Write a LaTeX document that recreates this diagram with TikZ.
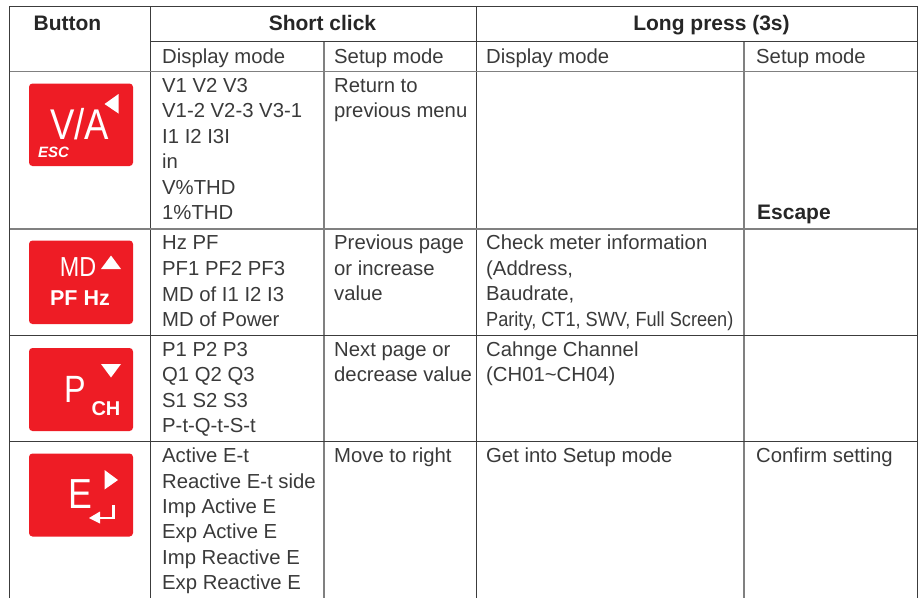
\documentclass[tikz,border=0pt]{standalone}
\usepackage{fontspec}
\setmainfont{Liberation Sans}
\newfontfamily\condfont[FakeStretch=0.89]{Liberation Sans}
\newfontfamily\narrowfont[FakeStretch=0.85]{Liberation Sans}
\definecolor{ink}{HTML}{3A3A3A}
\definecolor{rule}{HTML}{3C3C3C}
\definecolor{softrule}{HTML}{808080}
\definecolor{btnred}{HTML}{EE1C25}
\tikzset{
  cell/.style={anchor=base west,inner sep=0pt,text=ink,font=\fontsize{20.3}{24}\selectfont},
  smallcell/.style={cell,font=\condfont\fontsize{20.4}{24}\selectfont},
  head/.style={anchor=base,inner sep=0pt,text=black!85,font=\fontsize{21}{24}\selectfont\bfseries},
  btn/.style={fill=btnred,rounded corners=3.5pt,draw=none},
  btntext/.style={anchor=base,inner sep=0pt,text=white},
  glyph/.style={fill=white,draw=none},
  gridline/.style={draw=rule,line width=.9pt},
  softline/.style={draw=softrule,line width=1.1pt}
}
\begin{document}
\begin{tikzpicture}[x=1pt,y=-1pt]
\useasboundingbox (0,0) rectangle (922,598);
% grid
\draw[gridline] (9.5,598) -- (9.5,6.5) -- (917,6.5) -- (917,598);
\draw[gridline] (150,6.5) -- (150,598);
\draw[gridline] (476,6.5) -- (476,598);
\draw[softline] (324,41) -- (324,598);
\draw[softline] (744,41) -- (744,598);
\draw[gridline] (150,41) -- (917,41);
\draw[softline] (9.5,71.5) -- (917,71.5);
\draw[softline] (9.5,229) -- (917,229);
\draw[gridline] (9.5,335) -- (917,335);
\draw[gridline] (9.5,441.5) -- (917,441.5);
% headers
\node[head] (hbtn) at (67.5,30) {Button};
\node[head] (hshort) at (322.5,30) {Short click};
\node[head] (hlong) at (711.5,30) {Long press (3s)};
\node[cell] (d1) at (162,63) {Display mode};
\node[cell] (s1) at (334,63) {Setup mode};
\node[cell] (d2) at (486,63) {Display mode};
\node[cell] (s2) at (756,63) {Setup mode};
% row 1
\node[cell] (a1) at (162,92) {V1 V2 V3};
\node[cell] (a2) at (162,117.5) {V1-2 V2-3 V3-1};
\node[cell] (a3) at (162,143) {I1 I2 I3I};
\node[cell] (a4) at (162,168.5) {in};
\node[cell] (a5) at (162,194) {V\%THD};
\node[cell] (a6) at (162,219.5) {1\%THD};
\node[cell] (b1) at (334,92) {Return to};
\node[cell] (b2) at (334,117.5) {previous menu};
\node[cell,font=\fontsize{21}{24}\selectfont\bfseries,text=black!85] (esc) at (757,219.5) {Escape};
% row 2
\node[cell] (c1) at (162,249) {Hz PF};
\node[cell] (c2) at (162,275) {PF1 PF2 PF3};
\node[cell] (c3) at (162,301) {MD of I1 I2 I3};
\node[cell] (c4) at (162,326) {MD of Power};
\node[cell] (e1) at (334,249.5) {Previous page};
\node[cell] (e2) at (334,275) {or increase};
\node[cell] (e3) at (334,300.5) {value};
\node[cell] (f1) at (486,249.5) {Check meter information};
\node[cell] (f2) at (486,275) {(Address,};
\node[cell] (f3) at (486,300.5) {Baudrate,};
\node[smallcell] (f4) at (486,326) {Parity, CT1, SWV, Full Screen)};
% row 3
\node[cell] (g1) at (162,356) {P1 P2 P3};
\node[cell] (g2) at (162,381) {Q1 Q2 Q3};
\node[cell] (g3) at (162,407) {S1 S2 S3};
\node[cell] (g4) at (162,432) {P-t-Q-t-S-t};
\node[cell] (h1) at (334,356) {Next page or};
\node[cell] (h2) at (334,381) {decrease value};
\node[cell] (i1) at (486,356) {Cahnge Channel};
\node[cell] (i2) at (486,381) {(CH01\textasciitilde CH04)};
% row 4
\node[cell] (j1) at (162,462) {Active E-t};
\node[cell] (j2) at (162,488) {Reactive E-t side};
\node[cell] (j3) at (162,513) {Imp Active E};
\node[cell] (j4) at (162,538.5) {Exp Active E};
\node[cell] (j5) at (162,564) {Imp Reactive E};
\node[cell] (j6) at (162,589.5) {Exp Reactive E};
\node[cell] (k1) at (334,462) {Move to right};
\node[cell] (l1) at (486,462) {Get into Setup mode};
\node[cell] (m1) at (756,462) {Confirm setting};
% button V/A
\fill[btn] (29,83.5) rectangle (133,166);
\node[btntext,text depth=0pt,font=\narrowfont\fontsize{43}{46}\selectfont] (va) at (79.5,139) {V/A};
\node[btntext,text height=10.5pt,font=\fontsize{15}{17}\selectfont\bfseries\itshape] (vaesc) at (53.5,157) {ESC};
\fill[glyph] (118.5,94) -- (118.5,113.5) -- (104.5,104) -- cycle;
% button MD
\fill[btn] (29,240.5) rectangle (133,324);
\node[btntext,font=\narrowfont\fontsize{27.5}{30}\selectfont] (md) at (78,276.5) {MD};
\node[btntext,font=\fontsize{21.5}{24}\selectfont\bfseries] (pfhz) at (80,305) {PF Hz};
\fill[glyph] (111,255.5) -- (121,269) -- (101,269) -- cycle;
% button P
\fill[btn] (29,348) rectangle (133,431);
\node[btntext,font=\narrowfont\fontsize{38}{42}\selectfont] (pbtn) at (75.5,402) {P};
\node[btntext,font=\fontsize{20}{22}\selectfont\bfseries] (ch) at (106,415) {CH};
\fill[glyph] (101,364) -- (121,364) -- (111,377.5) -- cycle;
% button E
\fill[btn] (29,453.5) rectangle (133,536.5);
\node[btntext,font=\narrowfont\fontsize{42}{46}\selectfont] (ebtn) at (80.5,508) {E};
\fill[glyph] (104.5,470) -- (118,480) -- (104.5,489.5) -- cycle;
\draw[white,line width=2.3pt] (113.5,505) -- (113.5,518) -- (98,518);
\fill[glyph] (89,518) -- (100,511.5) -- (100,523.5) -- cycle;
\end{tikzpicture}
\end{document}
